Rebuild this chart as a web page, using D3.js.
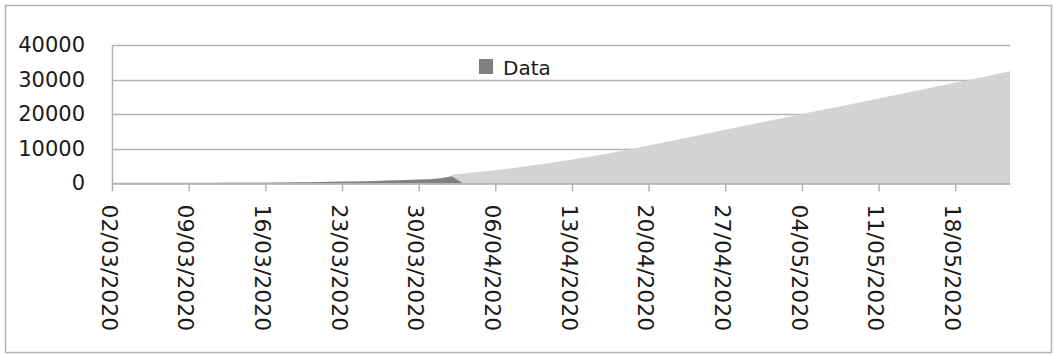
<!DOCTYPE html>
<html>
<head>
<meta charset="utf-8">
<script src="https://cdn.jsdelivr.net/npm/d3@7"></script>
<style>
  html, body { margin: 0; padding: 0; background: #fff; }
  svg { display: block; }
  text { font-family: "DejaVu Sans", Verdana, sans-serif; fill: #1a1a1a; }
</style>
</head>
<body>
<svg id="chart" width="1054" height="355"></svg>
<script>
// Daily series, first day of each series plus one value per day
const dataStart = "2020-03-02";
const dataValues = [
  2, 3, 5, 7, 9, 12, 15, 19, 24, 30,
  38, 47, 58, 72, 90, 115, 150, 190, 235, 285,
  340, 400, 465, 535, 610, 690, 780, 880, 990, 1120,
  1400, 1950, 0
];

const trendStart = "2020-04-02";
const trendValues = [
  2400, 2700, 3020, 3360, 3720, 4100, 4500, 4920, 5360, 5820,
  6300, 6800, 7320, 7860, 8420, 9000, 9600, 10220, 10870, 11520,
  12170, 12820, 13470, 14120, 14770, 15420, 16070, 16720, 17370, 18020,
  18670, 19320, 19970, 20620, 21270, 21920, 22570, 23220, 23870, 24520,
  25170, 25820, 26470, 27120, 27770, 28420, 29070, 29720, 30370, 31050,
  31720, 32400
];

const axisStart = "2020-03-02";
const axisEnd = "2020-05-23";
const yTicks = [0, 10000, 20000, 30000, 40000];
const legendLabel = "Data";

const parse = d3.utcParse("%Y-%m-%d");
const fmt = d3.utcFormat("%d/%m/%Y");

function toPoints(start, values) {
  const s = parse(start);
  return values.map((v, i) => ({ date: d3.utcDay.offset(s, i), value: v }));
}

const dataPts = toPoints(dataStart, dataValues);
const trendPts = toPoints(trendStart, trendValues);

const svg = d3.select("#chart");
const plot = { left: 112, right: 1010, top: 45, bottom: 183 };

const x = d3.scaleUtc()
  .domain([parse(axisStart), parse(axisEnd)])
  .range([plot.left, plot.right]);

const y = d3.scaleLinear()
  .domain([0, 40000])
  .range([plot.bottom, plot.top]);

const gridColor = "#b3b3b3";

// Outer frame
svg.append("rect")
  .attr("x", 5.5).attr("y", 5.5)
  .attr("width", 1046).attr("height", 347)
  .attr("fill", "none")
  .attr("stroke", gridColor)
  .attr("stroke-width", 1.5);

// Horizontal gridlines
svg.append("g")
  .selectAll("line")
  .data(yTicks)
  .join("line")
  .attr("x1", plot.left).attr("x2", plot.right)
  .attr("y1", d => Math.round(y(d)) + 0.5)
  .attr("y2", d => Math.round(y(d)) + 0.5)
  .attr("stroke", gridColor)
  .attr("stroke-width", 1.5);

// Areas
const area = d3.area()
  .x(d => x(d.date))
  .y0(y(0))
  .y1(d => y(d.value));

svg.append("path")
  .datum(trendPts)
  .attr("d", area)
  .attr("fill", "#d3d3d3");

svg.append("path")
  .datum(dataPts)
  .attr("d", area)
  .attr("fill", "#808080");

// Left axis line
svg.append("line")
  .attr("x1", plot.left + 0.5).attr("x2", plot.left + 0.5)
  .attr("y1", plot.top).attr("y2", plot.bottom)
  .attr("stroke", gridColor)
  .attr("stroke-width", 1.5);

// Bottom axis (weekly ticks)
const xAxis = d3.axisBottom(x)
  .ticks(d3.utcMonday.every(1))
  .tickFormat(fmt)
  .tickSize(8)
  .tickSizeOuter(0);

const gx = svg.append("g")
  .attr("transform", `translate(0,${Math.round(y(0)) + 0.5})`)
  .call(xAxis);
gx.select(".domain").attr("stroke", gridColor).attr("stroke-width", 1.5);
gx.selectAll(".tick line").attr("stroke", gridColor).attr("stroke-width", 1.5);
gx.selectAll(".tick text")
  .attr("font-size", 22)
  .attr("font-family", "DejaVu Sans, Verdana, sans-serif")
  .attr("fill", "#1a1a1a")
  .attr("text-anchor", "start")
  .attr("transform", "rotate(90)")
  .attr("x", 21)
  .attr("y", 3)
  .attr("dy", "0.35em");

// Left axis labels
const yAxis = d3.axisLeft(y)
  .tickValues(yTicks)
  .tickFormat(d3.format("d"))
  .tickSize(0)
  .tickPadding(27);

const gy = svg.append("g")
  .attr("transform", `translate(${plot.left},0)`)
  .call(yAxis);
gy.select(".domain").remove();
gy.selectAll(".tick text")
  .attr("font-size", 21)
  .attr("font-family", "DejaVu Sans, Verdana, sans-serif")
  .attr("fill", "#1a1a1a");

// Legend
const legend = svg.append("g").attr("transform", "translate(479,59)");
legend.append("rect")
  .attr("width", 14).attr("height", 15)
  .attr("fill", "#808080");
legend.append("text")
  .attr("x", 24).attr("y", 15.5)
  .attr("font-size", 20)
  .text(legendLabel);
</script>
</body>
</html>
